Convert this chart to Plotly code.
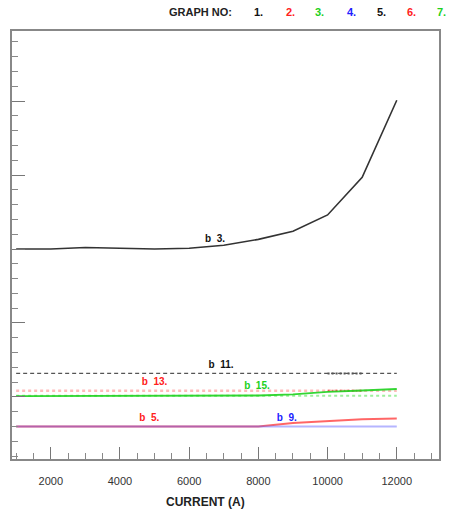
import plotly.graph_objects as go

current = [1000, 2000, 3000, 4000, 5000, 6000, 7000, 8000, 9000, 10000, 11000, 12000]

g1_black = [3.00, 3.00, 3.02, 3.01, 3.00, 3.01, 3.05, 3.13, 3.24, 3.46, 3.97, 5.01]
g2_red = [0.60, 0.60, 0.60, 0.60, 0.60, 0.60, 0.60, 0.60, 0.65, 0.68, 0.70, 0.71]
g3_green = [1.013, 1.013, 1.013, 1.013, 1.013, 1.013, 1.015, 1.02, 1.034, 1.068, 1.088, 1.108]
g4_blue = [0.60] * 12
g5_black = [1.318] * 12
g6_red = [1.085] * 12
g7_green = [1.018] * 12

dense_x = [10000, 11000]
dense_black = [1.318, 1.318]
dense_red = [1.085, 1.085]

labels = ["b\u00a0\u00a03.", "b\u00a0\u00a05.", "b\u00a0\u00a09.", "b\u00a0\u00a011.", "b\u00a0\u00a013.", "b\u00a0\u00a015."]
label_x = [6750, 4850, 8820, 6920, 5000, 7960]
label_y = [3.135, 0.703, 0.712, 1.419, 1.193, 1.139]
label_colors = ["#111111", "#ff2020", "#2020ff", "#111111", "#ff2020", "#20d020"]

legend_items = ["1.", "2.", "3.", "4.", "5.", "6.", "7."]
legend_colors = ["#111111", "#ff2020", "#20d020", "#2020ff", "#111111", "#ff2020", "#20d020"]

fig = go.Figure()

fig.add_trace(go.Scatter(x=current, y=g6_red, mode="lines",
                         line=dict(color="rgba(255,60,60,0.35)", width=2.5, dash="3px,3px")))
fig.add_trace(go.Scatter(x=current, y=g7_green, mode="lines",
                         line=dict(color="rgba(40,220,40,0.45)", width=2, dash="3px,3px")))
fig.add_trace(go.Scatter(x=current, y=g5_black, mode="lines",
                         line=dict(color="#555555", width=1.2, dash="4px,3px")))
fig.add_trace(go.Scatter(x=dense_x, y=dense_black, mode="lines",
                         line=dict(color="#555555", width=2, dash="2px,2px")))
fig.add_trace(go.Scatter(x=dense_x, y=dense_red, mode="lines",
                         line=dict(color="rgba(230,60,60,0.8)", width=2, dash="2px,2px")))
fig.add_trace(go.Scatter(x=current, y=g2_red, mode="lines",
                         line=dict(color="rgba(255,0,0,0.6)", width=2)))
fig.add_trace(go.Scatter(x=current, y=g4_blue, mode="lines",
                         line=dict(color="rgba(90,90,255,0.45)", width=2)))
fig.add_trace(go.Scatter(x=current, y=g3_green, mode="lines",
                         line=dict(color="rgba(30,210,30,0.9)", width=1.8)))
fig.add_trace(go.Scatter(x=current, y=g1_black, mode="lines",
                         line=dict(color="#333333", width=1.6)))

fig.add_trace(go.Scatter(x=label_x, y=label_y, mode="text", text=labels, hoverinfo="skip",
                         textfont=dict(family="Liberation Sans", size=10, color=label_colors, weight="bold")))

annotations = [
    dict(text="GRAPH NO:", xref="paper", yref="paper", x=0.4406, y=1.044,
         xanchor="center", yanchor="middle",
         showarrow=False, font=dict(family="Liberation Sans", size=11, color="#222222", weight="bold")),
    dict(text="CURRENT (A)", xref="paper", yref="paper", x=0.452, y=-0.1005,
         xanchor="center", yanchor="middle",
         showarrow=False, font=dict(family="Liberation Sans", size=12, color="#222222", weight="bold")),
]
legend_px = [0.578, 0.6515, 0.720, 0.795, 0.866, 0.935, 1.005]
for t, c, px in zip(legend_items, legend_colors, legend_px):
    annotations.append(dict(text=t, xref="paper", yref="paper", x=px, y=1.044, showarrow=False,
                            xanchor="center", yanchor="middle",
                            font=dict(family="Liberation Sans", size=11, color=c, weight="bold")))

fig.update_layout(
    width=449, height=512,
    margin=dict(l=12, r=8, t=31, b=53),
    paper_bgcolor="white", plot_bgcolor="white",
    showlegend=False,
    annotations=annotations,
    xaxis=dict(range=[880, 13220], tick0=0, dtick=2000, tickformat="d", ticks="inside", ticklen=12,
               tickcolor="#777777", tickwidth=1.2, ticklabelstandoff=11,
               showline=True, mirror=True, linecolor="#888888", linewidth=1.5,
               showgrid=False, zeroline=False,
               tickfont=dict(family="Liberation Sans", size=11, color="#333333"),
               minor=dict(dtick=500, ticks="inside", ticklen=6, tickcolor="#888888", showgrid=False)),
    yaxis=dict(range=[0.162, 5.946], tick0=0, dtick=1, ticks="inside", ticklen=13,
               tickcolor="#777777", tickwidth=1.2, showticklabels=False,
               showline=True, mirror=True, linecolor="#888888", linewidth=1.5,
               showgrid=False, zeroline=False,
               minor=dict(dtick=0.2, ticks="inside", ticklen=6, tickcolor="#888888", showgrid=False)),
)

fig.write_html("out.html", config={"displayModeBar": False},
               post_script="document.body.style.margin='0';document.body.style.overflow='hidden';")
